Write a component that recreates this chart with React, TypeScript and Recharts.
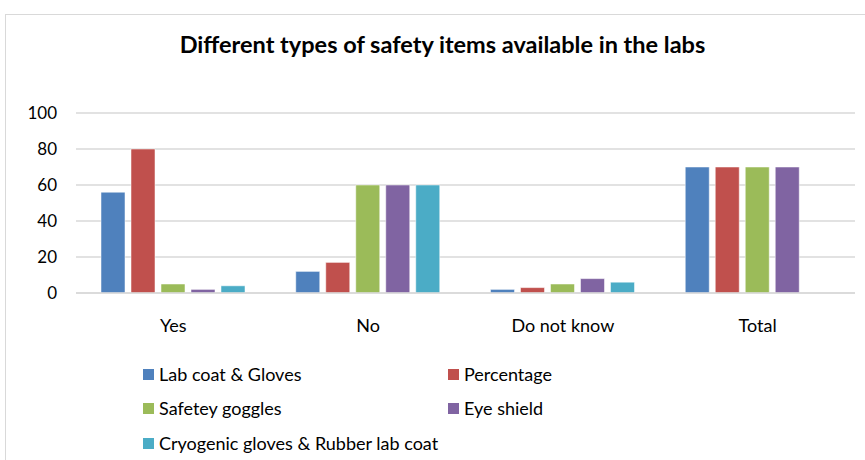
import React from 'react';
import { BarChart, Bar, XAxis, YAxis, CartesianGrid } from 'recharts';

const categories = ['Yes', 'No', 'Do not know', 'Total'];
const labCoatGloves = [56, 12, 2, 70];
const percentage = [80, 17, 3, 70];
const safetyGoggles = [5, 60, 5, 70];
const eyeShield = [2, 60, 8, 70];
const cryogenicRubber = [4, 60, 6, 0];
const yTicks = [0, 20, 40, 60, 80, 100];

const series = [
  { key: 'labCoat', name: 'Lab coat & Gloves', color: '#4F81BD', values: labCoatGloves },
  { key: 'percentage', name: 'Percentage', color: '#C0504D', values: percentage },
  { key: 'goggles', name: 'Safetey goggles', color: '#9BBB59', values: safetyGoggles },
  { key: 'eye', name: 'Eye shield', color: '#8064A2', values: eyeShield },
  { key: 'cryo', name: 'Cryogenic gloves & Rubber lab coat', color: '#4BACC6', values: cryogenicRubber },
];

const data = categories.map((c, i) => {
  const row: Record<string, string | number> = { category: c };
  series.forEach((s) => (row[s.key] = s.values[i]));
  return row;
});

const FONT = 'Lato, "Open Sans", sans-serif';

const legendPos = [
  { left: 143, top: 374 },
  { left: 448, top: 374 },
  { left: 143, top: 408 },
  { left: 448, top: 408 },
  { left: 143, top: 443 },
];

export default function App() {
  return (
    <div style={{ position: 'fixed', left: 0, top: 0, width: 865, height: 460, background: '#fff', overflow: 'hidden', fontFamily: FONT }}>
      <div style={{ position: 'absolute', left: 5, top: 14, width: 900, height: 500, border: '1px solid #D9D9D9', boxSizing: 'border-box' }} />
      <div style={{ position: 'absolute', left: 0, top: 30, width: 885, textAlign: 'center', fontSize: 23.5, lineHeight: '28px', fontWeight: 700, color: '#000' }}>
        Different types of safety items available in the labs
      </div>
      <div style={{ position: 'absolute', left: 0, top: 0 }}>
        <BarChart
          width={865}
          height={460}
          data={data}
          margin={{ top: 113, right: 10, bottom: 0, left: 0 }}
          barCategoryGap={25}
          barGap={6}
        >
          <CartesianGrid vertical={false} stroke="#D9D9D9" strokeWidth={1.5} />
          <XAxis
            dataKey="category"
            height={167}
            axisLine={{ stroke: '#D9D9D9', strokeWidth: 1.5 }}
            tickLine={false}
            tickSize={0}
            tickMargin={26}
            tick={{ fill: '#000', fontSize: 18, fontFamily: FONT }}
          />
          <YAxis
            width={76}
            domain={[0, 100]}
            ticks={yTicks}
            axisLine={false}
            tickLine={false}
            tickSize={0}
            tickMargin={19}
            tick={{ fill: '#000', fontSize: 17, fontFamily: FONT }}
          />
          {series.map((s) => (
            <Bar key={s.key} dataKey={s.key} name={s.name} fill={s.color} stroke="#ffffff" strokeOpacity={0.5} strokeWidth={1} isAnimationActive={false} />
          ))}
        </BarChart>
      </div>
      {series.map((s, i) => (
        <div key={s.key} style={{ position: 'absolute', left: legendPos[i].left, top: legendPos[i].top - 12, height: 24, display: 'flex', alignItems: 'center', fontSize: 18, color: '#000', whiteSpace: 'nowrap' }}>
          <span style={{ display: 'inline-block', width: 11, height: 11, background: s.color, marginRight: 5 }} />
          {s.name}
        </div>
      ))}
    </div>
  );
}
